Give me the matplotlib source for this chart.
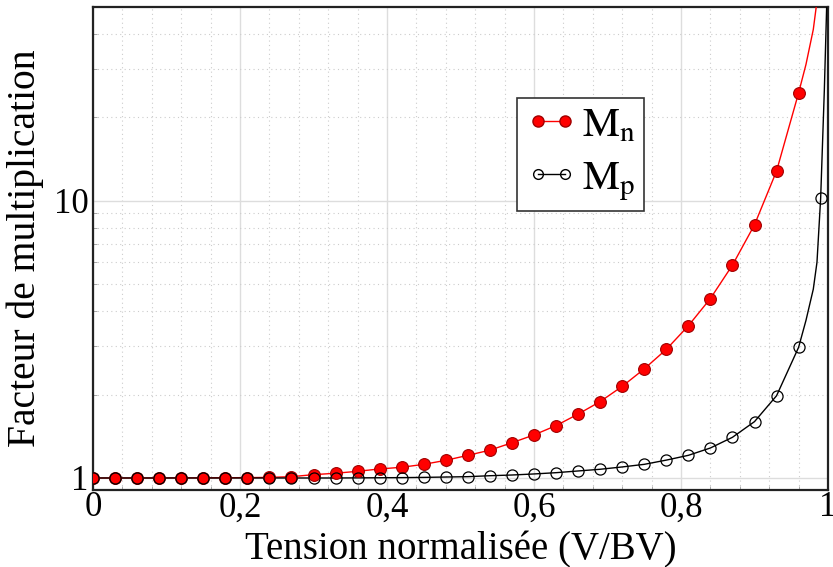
import numpy as np
import matplotlib
matplotlib.use("Agg")
import matplotlib.pyplot as plt
from matplotlib.ticker import FixedLocator, NullFormatter, MultipleLocator

# normalised voltage at the markers
v = [0.00, 0.03, 0.06, 0.09, 0.12, 0.15, 0.18, 0.21, 0.24, 0.27,
     0.30, 0.33, 0.36, 0.39, 0.42, 0.45, 0.48, 0.51, 0.54, 0.57,
     0.60, 0.63, 0.66, 0.69, 0.72, 0.75, 0.78, 0.81, 0.84, 0.87,
     0.90, 0.93, 0.96, 0.99]

# electrons (up to 0.96, the next one is off the chart)
mn = [1.000, 1.000, 1.000, 1.000, 1.001, 1.001, 1.002, 1.003, 1.005, 1.011,
      1.028, 1.040, 1.057, 1.078, 1.093, 1.120, 1.158, 1.207, 1.260, 1.340,
      1.430, 1.545, 1.700, 1.886, 2.140, 2.475, 2.910, 3.540, 4.440, 5.860,
      8.190, 12.80, 24.50]
# extra points of the red curve past the last marker
v_n_end = [0.97, 0.98, 0.986]
mn_end = [31.0, 41.5, 55.0]

# holes
mp = [1.000, 1.000, 1.000, 1.000, 1.000, 1.000, 1.000, 1.000, 1.000, 1.000,
      1.000, 1.000, 1.001, 1.002, 1.003, 1.005, 1.008, 1.011, 1.019, 1.025,
      1.034, 1.045, 1.060, 1.075, 1.096, 1.120, 1.160, 1.207, 1.283, 1.402,
      1.597, 1.980, 2.960, 10.20]
v_p_end = [0.97, 0.98, 0.985, 0.99, 0.995, 0.999]
mp_end = [3.7, 4.8, 6.0, 10.2, 25.0, 60.0]

plt.rcParams['font.family'] = ['Liberation Serif', 'DejaVu Serif']
plt.rcParams['mathtext.fontset'] = 'stix'

fig = plt.figure(figsize=(8.33, 5.67), dpi=100)
ax = fig.add_axes([93/833, 1-490/567, 735/833, 483/567])

vn = v[:len(mn)]
ax.plot(vn + v_n_end, mn + mn_end, color='red', lw=1.0, zorder=3)
ax.plot(vn, mn, 'o', color='red', mec='#a00000', mew=0.8, ms=8.5, zorder=4)
ax.plot(v[:-1] + v_p_end, mp[:-1] + mp_end, color='black', lw=1.0, zorder=3)
ax.plot(v, mp, 'o', mfc='none', mec='black', mew=0.9, ms=8, zorder=4)

# legend proxies
ln, = ax.plot([], [], '-o', color='red', mec='#a00000', ms=8, lw=1.0, label=r'$\mathrm{M_n}$')
lp, = ax.plot([], [], '-o', color='black', mfc='none', ms=7, lw=1.0, label=r'$\mathrm{M_p}$')
leg = ax.legend(handles=[ln, lp], loc='upper left', bbox_to_anchor=(424/735, 1-91/483),
                numpoints=2, fontsize=30, fancybox=False, framealpha=1,
                edgecolor='#333333', handlelength=1.25, handletextpad=0.1,
                borderpad=0.2, labelspacing=0.35, borderaxespad=0)
leg.get_frame().set_linewidth(1.2)

ax.set_yscale('log')
ax.set_xlim(0, 1)
ax.set_ylim(0.905, 50)

ax.set_xticks([0, 0.2, 0.4, 0.6, 0.8, 1.0])
ax.set_xticklabels(['0', '0,2', '0,4', '0,6', '0,8', '1'])
ax.xaxis.set_minor_locator(MultipleLocator(0.04))
ax.yaxis.set_major_locator(FixedLocator([1, 10]))
ax.set_yticklabels(['1', '10'])
ax.yaxis.set_minor_locator(FixedLocator([2, 3, 4, 5, 6, 7, 8, 9, 20, 30, 40]))
ax.yaxis.set_minor_formatter(NullFormatter())

ax.tick_params(which='both', direction='in', labelsize=25)
ax.tick_params(axis='x', pad=1)
ax.tick_params(axis='y', pad=3)
ax.tick_params(which='major', length=0)
ax.tick_params(which='minor', length=3, width=0.6, color='#999999')

ax.grid(which='major', color='#dddddd', lw=1.0, zorder=0)
ax.grid(which='minor', color='#cccccc', lw=0.8, ls=(0, (1, 3)), zorder=0)
ax.set_axisbelow(True)

for s in ax.spines.values():
    s.set_linewidth(1.6)
    s.set_color('#222222')

ax.set_xlabel('Tension normalisée (V/BV)', fontsize=28, labelpad=5)
ax.set_ylabel('Facteur de multiplication', fontsize=28.5, labelpad=7)

fig.savefig('out.png', dpi=100)
